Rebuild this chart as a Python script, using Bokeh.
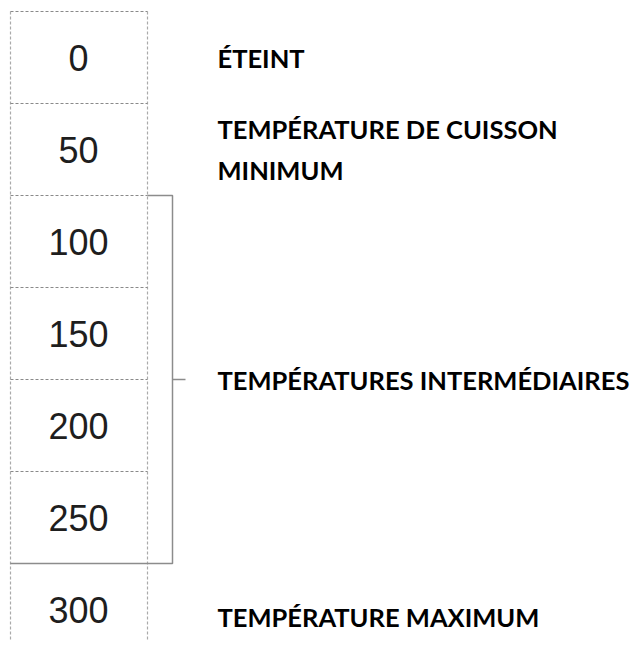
from bokeh.plotting import figure
from bokeh.models import Range1d, ColumnDataSource
from bokeh.core.properties import value
from bokeh.embed import file_html
from bokeh.resources import INLINE

# Data
settings = ["0", "50", "100", "150", "200", "250", "300"]
group_labels = ["ÉTEINT", "TEMPÉRATURE DE CUISSON\nMINIMUM", "TEMPÉRATURES INTERMÉDIAIRES", "TEMPÉRATURE MAXIMUM"]
group_start = [0, 1, 2, 6]   # first row index of each group
group_end = [0, 1, 5, 6]     # last row index of each group
bracket_group = 2            # group drawn with a bracket

W, H = 631, 645
ROW = 92.0
TOP = 11.0
n = len(settings)

p = figure(width=W, height=H, output_backend="svg", toolbar_location=None,
           x_range=Range1d(0, W), y_range=Range1d((H - TOP) / ROW, -TOP / ROW),
           min_border=0, outline_line_color=None)
p.axis.visible = False
p.grid.visible = False
p.background_fill_color = "white"

X_L, X_R = 10, 147
X_BR, X_TICK = 172, 185
X_NUM, X_LAB = 78, 217

# dashed grid of the cells
last_bottom = n - 1 + 0.84
p.segment(x0=[X_L, X_R], y0=[0, 0], x1=[X_L, X_R], y1=[last_bottom, last_bottom],
          line_color="#aaaaaa", line_width=1.2, line_dash="3 2")
ys = list(range(0, n))
p.segment(x0=[X_L] * len(ys), y0=ys, x1=[X_R] * len(ys), y1=ys,
          line_color="#8a8a8a", line_width=1.2, line_dash="3 2")

# bracket
b0 = group_start[bracket_group]
b1 = group_end[bracket_group] + 1
mid = (b0 + b1) / 2
p.line(x=[X_R, X_BR, X_BR, X_L], y=[b0, b0, b1, b1], line_color="#8c8c8c", line_width=1.5)
p.segment(x0=[X_BR], y0=[mid], x1=[X_TICK], y1=[mid], line_color="#8c8c8c", line_width=1.5)

# numbers
src = ColumnDataSource(dict(x=[X_NUM] * n, y=[i + 0.5 for i in range(n)], t=settings))
p.text(x="x", y="y", text="t", source=src, text_font=value("Liberation Sans"),
       text_font_size="36px", text_color="#1e1e1e", text_align="center",
       text_baseline="middle")

# group labels
lab_y = [(s + e + 1) / 2 for s, e in zip(group_start, group_end)]
lab_y[-1] = lab_y[-1] + 0.08
lsrc = ColumnDataSource(dict(x=[X_LAB] * len(group_labels), y=lab_y, t=group_labels))
p.text(x="x", y="y", text="t", source=lsrc, text_font=value("Lato"),
       text_font_style="bold", text_font_size="25.5px", text_color="black",
       text_align="left", text_baseline="middle", text_line_height=1.38)

open("out.html", "w").write(file_html(p, INLINE))
